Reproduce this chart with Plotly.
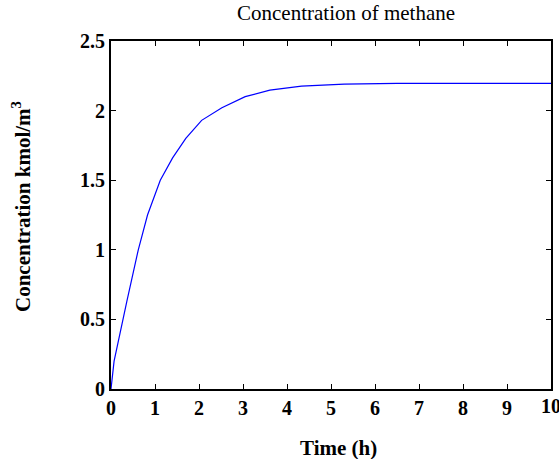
import plotly.graph_objects as go

time_h = [0, 0.07, 0.36, 0.62, 0.83, 1.12, 1.40, 1.70, 2.06, 2.52, 3.05, 3.61, 4.33, 5.3, 6.5, 8.0, 10.0]
conc = [0, 0.20, 0.63, 1.00, 1.25, 1.50, 1.66, 1.80, 1.93, 2.02, 2.10, 2.147, 2.176, 2.19, 2.195, 2.195, 2.195]
x_ticks = [0, 1, 2, 3, 4, 5, 6, 7, 8, 9, 10]
y_ticks = [0, 0.5, 1, 1.5, 2, 2.5]
y_tick_text = ["0", "0.5", "1", "1.5", "2", "2.5"]

W, H = 559, 459
L, R, T, B = 111, 8, 41, 70
PW, PH = W - L - R, H - T - B


def px(xp):
    return (xp - L) / PW


def py(yp):
    return (H - B - yp) / PH


fig = go.Figure()
fig.add_trace(go.Scatter(x=time_h, y=conc, mode="lines",
                         line=dict(color="#0000ff", width=1.2), hoverinfo="skip"))

font_bold = dict(family="Liberation Serif", size=20, color="black", weight="bold")
axis_common = dict(showgrid=False, zeroline=False, showline=True, linecolor="black",
                   linewidth=2, mirror="allticks", ticks="inside", ticklen=5,
                   tickwidth=1, tickcolor="black", automargin=False)

fig.update_xaxes(range=[0, 10], tickvals=x_ticks, tickfont=font_bold, **axis_common)
fig.update_yaxes(range=[0, 2.5], tickvals=y_ticks, ticktext=y_tick_text,
                 tickfont=font_bold, **axis_common)

# last x tick label (partly beyond the page edge, as in the reference)
last_tick = x_ticks[-1]

fig.update_layout(
    width=W, height=H,
    margin=dict(l=L, r=R, t=T, b=B, autoexpand=False),
    paper_bgcolor="white", plot_bgcolor="white",
    showlegend=False,
    font=dict(family="Liberation Serif"),
    annotations=[
        dict(text="Concentration of methane", xref="paper", yref="paper",
             x=px(345.5), y=py(13), xanchor="center", yanchor="middle", showarrow=False,
             font=dict(family="Liberation Serif", size=21, color="black")),
        dict(text="<b>Time (h)</b>", xref="paper", yref="paper",
             x=px(338.5), y=py(448),
             xanchor="center", yanchor="middle", showarrow=False,
             font=dict(family="Liberation Serif", size=21, color="black")),
        dict(text="<b>Concentration kmol/m<sup>3</sup></b>", xref="paper", yref="paper",
             x=px(21), y=py(207),
             xanchor="center", yanchor="middle", textangle=-90, showarrow=False,
             font=dict(family="Liberation Serif", size=21, color="black")),
        dict(text="<b>%d</b>" % last_tick, xref="x", yref="paper",
             x=last_tick, y=py(406), xanchor="center", yanchor="middle", showarrow=False,
             font=dict(family="Liberation Serif", size=20, color="black")),
    ],
)

fig.write_html("out.html", config={"displayModeBar": False},
               post_script="document.body.style.margin='0px';document.body.style.overflow='hidden';")
